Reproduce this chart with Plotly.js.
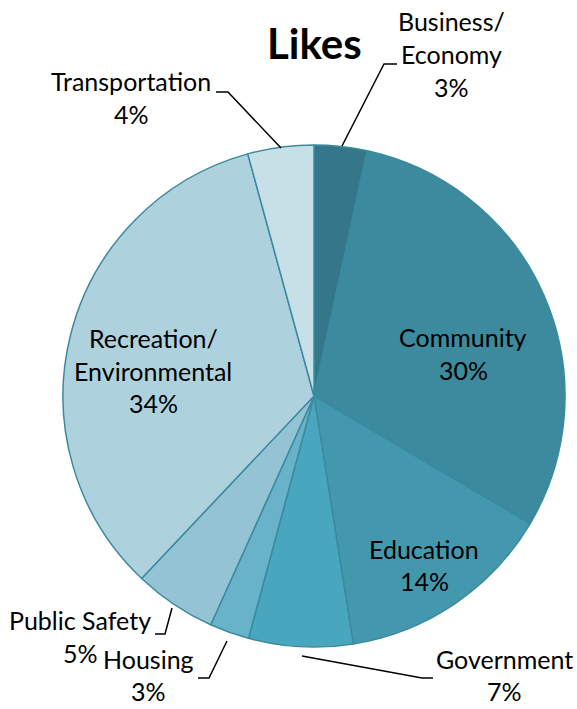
<!DOCTYPE html>
<html><head><meta charset="utf-8">
<script src="https://cdn.plot.ly/plotly-3.0.1.min.js"></script>
<style>html,body{margin:0;padding:0;background:#fff}#c{width:577px;height:709px}</style>
</head><body><div id="c"></div>
<script>
const categories = ["Business/Economy","Community","Education","Government","Housing","Public Safety","Recreation/Environmental","Transportation"];
const labelLines = [["Business/","Economy"],["Community"],["Education"],["Government"],["Housing"],["Public Safety"],["Recreation/","Environmental"],["Transportation"]];
const values = [3.4, 30.1, 14.0, 6.7, 2.55, 5.3, 33.7, 4.25];
const colors = ["#35778A","#3B8A9E","#4398AE","#48A7BF","#68B3C9","#94C4D4","#ADD1DD","#C7DFE7"];

const W = 577, H = 709;
const px = (x) => x / W;
const py = (y) => 1 - y / H;
const total = values.reduce((a,b)=>a+b,0);
const pct = values.map(v => Math.round(v / total * 100) + "%");

// label placement: [centerX, first line Y, line spacing]
const labelPos = [
  [451, 21, 33], [463, 337, 33], [424, 549, 32], [504, 659, 32],
  [148, 659, 32], [80, 620, 33], [153, 338, 32.5], [131, 81, 33]
];
const font = {family: "Lato, 'Open Sans', sans-serif", size: 25, color: "#000"};
const annotations = [];
categories.forEach((c, i) => {
  const [cx, y0, dy] = labelPos[i];
  const lines = labelLines[i].concat([pct[i]]);
  lines.forEach((t, k) => {
    annotations.push({xref:"paper", yref:"paper", x: px(cx), y: py(y0 + k*dy), text: t,
      showarrow:false, xanchor:"center", yanchor:"middle", font: font});
  });
});
annotations.push({xref:"paper", yref:"paper", x: px(314), y: py(43), text: "<b>Likes</b>",
  showarrow:false, xanchor:"center", yanchor:"middle",
  font: {family: "Lato, 'Open Sans', sans-serif", size: 42, color: "#000"}});

const leaders = [
  [[342,146],[384,64],[397,64]],
  [[281,148],[228,92],[216,92]],
  [[172,608],[165,634],[155,634]],
  [[227,641],[209,678],[198,678]],
  [[302,656],[422,678],[433,678]]
];
const shapes = leaders.map(pts => ({
  type:"path", xref:"paper", yref:"paper",
  path: pts.map((p,k)=> (k?"L":"M") + px(p[0]) + "," + py(p[1])).join(" "),
  line:{color:"#000", width:1.5}
}));

const data = [{
  type:"pie", labels: categories, values: values, sort:false, direction:"clockwise", rotation:0,
  marker:{colors: colors, line:{color:"#3B8A9E", width:1.5}},
  textinfo:"none", hoverinfo:"none", showlegend:false,
  domain:{x:[px(63), px(565)], y:[py(647), py(145)]}
}];
const layout = {
  width: W, height: H, margin:{l:0,r:0,t:0,b:0},
  paper_bgcolor:"#fff", plot_bgcolor:"#fff", showlegend:false,
  annotations: annotations, shapes: shapes
};
Plotly.newPlot("c", data, layout, {displayModeBar:false, staticPlot:true});
</script></body></html>
